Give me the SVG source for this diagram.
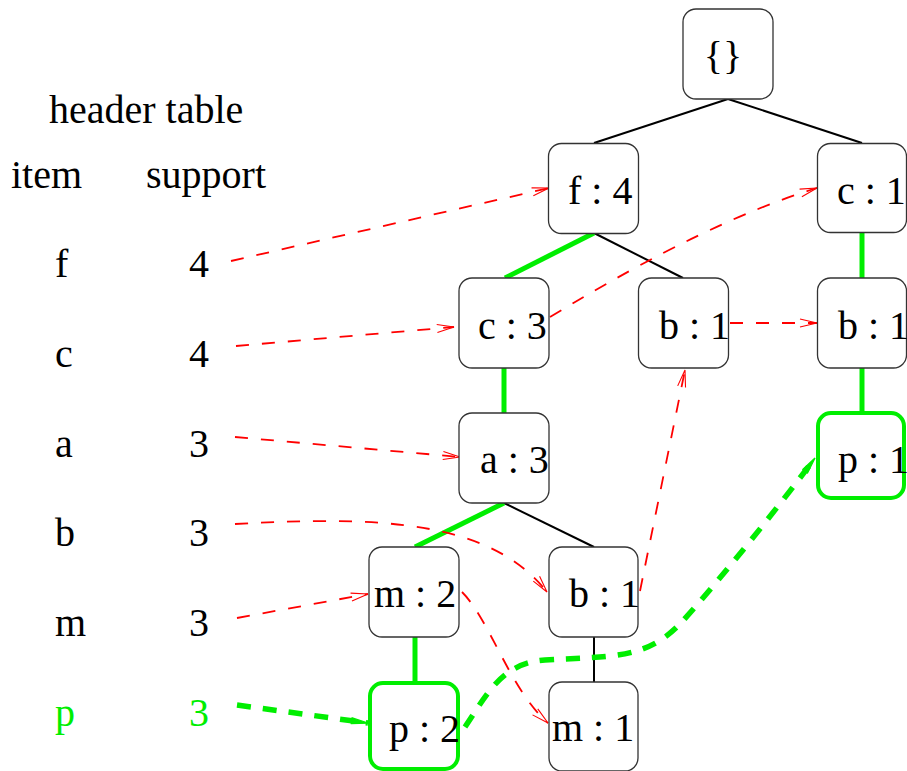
<svg xmlns="http://www.w3.org/2000/svg" width="907" height="771" viewBox="0 0 907 771">
<style>
text{font-family:"Liberation Serif","Times New Roman",serif;font-size:40px;fill:#000}
.g{fill:#00ee00}
.node rect{fill:#fff;stroke:#333;stroke-width:1.3}
.node.hl rect{stroke:#00ee00;stroke-width:4}
.tree{stroke:#000;stroke-width:2;fill:none}
.path{stroke:#00ee00;stroke-width:5;fill:none}
.link{stroke:#ff0000;stroke-width:1.8;fill:none;stroke-dasharray:13 13;marker-end:url(#ar)}
.plink{stroke:#00ee00;stroke-width:5.5;fill:none;stroke-dasharray:14 12;marker-end:url(#ag)}
</style>
<defs>
<marker id="ar" markerUnits="userSpaceOnUse" viewBox="0 0 17 10" refX="17" refY="5" markerWidth="17" markerHeight="10" orient="auto" overflow="visible">
<path d="M0,1 L17,5 L0,9" fill="none" stroke="#ff0000" stroke-width="1.1" stroke-dasharray="none"/>
</marker>
<marker id="ag" markerUnits="userSpaceOnUse" viewBox="0 0 17 10" refX="17" refY="5" markerWidth="17" markerHeight="10" orient="auto" overflow="visible">
<path d="M0,2 L17,5 L0,8" fill="#00ee00" stroke="#00ee00" stroke-width="1.3" stroke-dasharray="none"/>
</marker>
</defs>
<rect width="907" height="771" fill="#fff"/>

<g id="header">
<text x="49" y="123">header table</text>
<text x="11" y="188">item</text>
<text x="146" y="188">support</text>
<text x="55" y="277">f</text><text x="189" y="277">4</text>
<text x="55" y="367">c</text><text x="189" y="367">4</text>
<text x="55" y="457">a</text><text x="189" y="457">3</text>
<text x="55" y="546">b</text><text x="189" y="546">3</text>
<text x="55" y="636">m</text><text x="189" y="636">3</text>
<text x="55" y="726" class="g">p</text><text x="189" y="726" class="g">3</text>
</g>

<g id="connectors">
<path class="tree" d="M728,99 L594,143"/>
<path class="tree" d="M728,99 L862,143"/>
<path class="tree" d="M594,233 L683,278"/>
<path class="tree" d="M504,503 L594,547"/>
<path class="tree" d="M594,637 L594,682"/>
<path class="path" d="M594,233 L505,278"/>
<path class="path" d="M504,368 L504,413"/>
<path class="path" d="M504,503 L415,547"/>
<path class="path" d="M415,637 L415,681"/>
<path class="path" d="M862,233 L862,278"/>
<path class="path" d="M862,368 L862,411"/>
<path class="link" d="M231,261 L549,188"/>
<path class="link" d="M236,346 L454,327"/>
<path class="link" d="M550,317 Q708,221 817,188"/>
<path class="link" d="M730,323 L817,323"/>
<path class="link" d="M235,437 L460,457"/>
<path class="link" d="M235,524 C380,516 490,520 547,592"/>
<path class="link" d="M640,591 L685,370"/>
<path class="link" d="M237,618 L368,594"/>
<path class="link" d="M462,592 C490,620 510,690 548,723"/>
<path class="plink" d="M237,705 L368,723"/>
<path class="plink" d="M465,727 C485,698 500,663 545,660 C610,656 645,660 680,624 C720,580 780,505 815,458"/>
</g>

<g id="root" class="node"><rect x="683" y="9" width="90" height="90" rx="13"/><text x="723" y="69" text-anchor="middle">{}</text></g>
<g id="f4" class="node"><rect x="548.5" y="143.5" width="90" height="90" rx="13"/><text x="568" y="204">f : 4</text></g>
<g id="c1" class="node"><rect x="817.5" y="143.5" width="89" height="89" rx="13"/><text x="837" y="204">c : 1</text></g>
<g id="c3" class="node"><rect x="459" y="278" width="90" height="90" rx="13"/><text x="478" y="339">c : 3</text></g>
<g id="b1a" class="node"><rect x="638.5" y="278" width="90" height="90" rx="13"/><text x="659" y="339">b : 1</text></g>
<g id="b1b" class="node"><rect x="817.5" y="278" width="89" height="90" rx="13"/><text x="838" y="339">b : 1</text></g>
<g id="a3" class="node"><rect x="459" y="413" width="90" height="90" rx="13"/><text x="480" y="473">a : 3</text></g>
<g id="p1" class="node hl"><rect x="818" y="413" width="86" height="85" rx="13"/><text x="838" y="473">p : 1</text></g>
<g id="m2" class="node"><rect x="369" y="547" width="90" height="90" rx="13"/><text x="374" y="607">m : 2</text></g>
<g id="b1c" class="node"><rect x="549" y="547" width="89" height="90" rx="13"/><text x="569" y="607">b : 1</text></g>
<g id="p2" class="node hl"><rect x="370" y="683" width="88" height="86" rx="13"/><text x="389" y="742">p : 2</text></g>
<g id="m1" class="node"><rect x="549" y="682" width="89" height="89" rx="13"/><text x="552" y="741">m : 1</text></g>
</svg>
